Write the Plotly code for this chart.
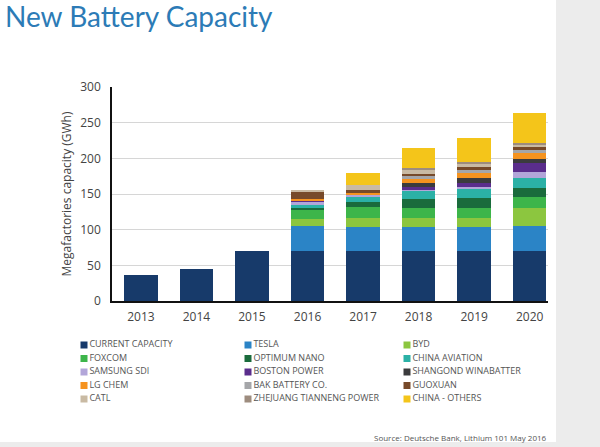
import plotly.graph_objects as go

W, H = 600, 447

years = ["2013", "2014", "2015", "2016", "2017", "2018", "2019", "2020"]

series_names = [
    "CURRENT CAPACITY", "TESLA", "BYD",
    "FOXCOM", "OPTIMUM NANO", "CHINA AVIATION",
    "SAMSUNG SDI", "BOSTON POWER", "SHANGOND WINABATTER",
    "LG CHEM", "BAK BATTERY CO.", "GUOXUAN",
    "CATL", "ZHEJUANG TIANNENG POWER", "CHINA - OTHERS",
]

current_capacity = [36, 45, 70, 70, 70, 70, 70, 70]
tesla            = [0, 0, 0, 35, 34, 34, 34, 35]
byd              = [0, 0, 0, 10, 13, 13, 13, 26]
foxcom           = [0, 0, 0, 12, 15, 14, 14, 15]
optimum_nano     = [0, 0, 0, 4, 7, 12, 13, 12]
china_aviation   = [0, 0, 0, 4, 7, 12, 14, 14]
samsung_sdi      = [0, 0, 0, 5, 2, 1, 2, 9]
boston_power     = [0, 0, 0, 1, 0, 4, 5, 12]
shangond         = [0, 0, 0, 0, 0, 6, 7, 6]
lg_chem          = [0, 0, 0, 2, 3, 5, 7, 8]
bak_battery      = [0, 0, 0, 0, 0, 4, 5, 4]
guoxuan          = [0, 0, 0, 10, 4, 3, 4, 5]
catl             = [0, 0, 0, 2, 8, 6, 5, 3]
zhejuang         = [0, 0, 0, 0, 0, 3, 2, 3]
china_others     = [0, 0, 0, 0, 16, 27, 34, 41]

series_values = [
    current_capacity, tesla, byd, foxcom, optimum_nano, china_aviation,
    samsung_sdi, boston_power, shangond, lg_chem, bak_battery, guoxuan,
    catl, zhejuang, china_others,
]

colors = [
    "#173a6a", "#2b84c6", "#8cc63f",
    "#3db54a", "#1a6b3c", "#2bb1a6",
    "#b2a6d9", "#5a2d8c", "#3b3b3d",
    "#f5931f", "#a5a6a9", "#774a2a",
    "#c9baa3", "#9d8c7e", "#f4c51a",
]

y_ticks = [0, 50, 100, 150, 200, 250, 300]

FONT = "Open Sans"

fig = go.Figure()

for name, vals, col in zip(series_names, series_values, colors):
    fig.add_trace(go.Bar(
        x=years, y=vals, name=name, marker=dict(color=col, line=dict(width=0)),
        showlegend=False, xaxis="x", yaxis="y",
    ))

# custom legend drawn on an auxiliary pixel-space axis
col_x = [84, 248, 407]
row_y0, row_dy = 345, 13.5
lx = [col_x[i % 3] for i in range(len(series_names))]
ly = [row_y0 + row_dy * (i // 3) for i in range(len(series_names))]
fig.add_trace(go.Scatter(
    x=lx, y=ly, mode="markers+text", text=series_names,
    textposition="middle right",
    textfont=dict(family=FONT, size=9, color="#555555"),
    marker=dict(symbol="square", size=7, color=colors, line=dict(width=0)),
    showlegend=False, xaxis="x2", yaxis="y2", hoverinfo="skip", cliponaxis=False,
))

x0px, x1px = 112, 548
y0px, y1px = 301, 87

fig.update_layout(
    width=W, height=H,
    margin=dict(l=0, r=0, t=0, b=0, autoexpand=False),
    paper_bgcolor="white", plot_bgcolor="rgba(0,0,0,0)",
    barmode="stack", bargap=0.4,
    font=dict(family=FONT, color="#444444"),
    title=dict(text="New Battery Capacity", x=5 / W, xanchor="left",
               xref="paper", yref="container",
               y=1 - 17 / H, yanchor="middle", automargin=False,
               font=dict(family="Lato", size=28, color="#2c7bb6")),
    xaxis=dict(
        domain=[x0px / W, x1px / W], anchor="y", automargin=False,
        type="category", range=[-0.52, 7.33],
        showline=True, linecolor="#111111", linewidth=1.5,
        showgrid=False, ticks="", tickfont=dict(size=12, color="#444444"),
        ticklabelstandoff=4,
    ),
    yaxis=dict(
        domain=[(H - y0px) / H, (H - y1px) / H], anchor="x", automargin=False,
        range=[0, 300], tickvals=y_ticks,
        showline=True, linecolor="#111111", linewidth=1.5,
        showgrid=True, gridcolor="#d6d6d6", gridwidth=1,
        zeroline=False, ticks="", tickfont=dict(size=12, color="#444444"),
        ticklabelstandoff=7,
        title=dict(text="Megafactories capacity (GWh)", standoff=6,
                   font=dict(size=12, color="#444444")),
    ),
    xaxis2=dict(domain=[0, 1], range=[0, W], visible=False, anchor="y2", automargin=False),
    yaxis2=dict(domain=[0, 1], range=[H, 0], visible=False, anchor="x2", automargin=False),
    shapes=[
        dict(type="rect", xref="paper", yref="paper", x0=556 / W, x1=1, y0=0, y1=1,
             fillcolor="#ececec", line=dict(width=0), layer="below"),
        dict(type="rect", xref="paper", yref="paper", x0=0, x1=1, y0=0, y1=5 / H,
             fillcolor="#ececec", line=dict(width=0), layer="below"),
    ],
    annotations=[
        dict(text="Source: Deutsche Bank, Lithium 101 May 2016", xref="paper", yref="paper",
             x=549 / W, y=(H - 437) / H, xanchor="right", yanchor="middle",
             showarrow=False, font=dict(family=FONT, size=8, color="#555555")),
    ],
)

fig.write_html(
    "out.html",
    config={"displayModeBar": False},
    post_script="document.body.style.margin='0';document.body.style.overflow='hidden';",
)
